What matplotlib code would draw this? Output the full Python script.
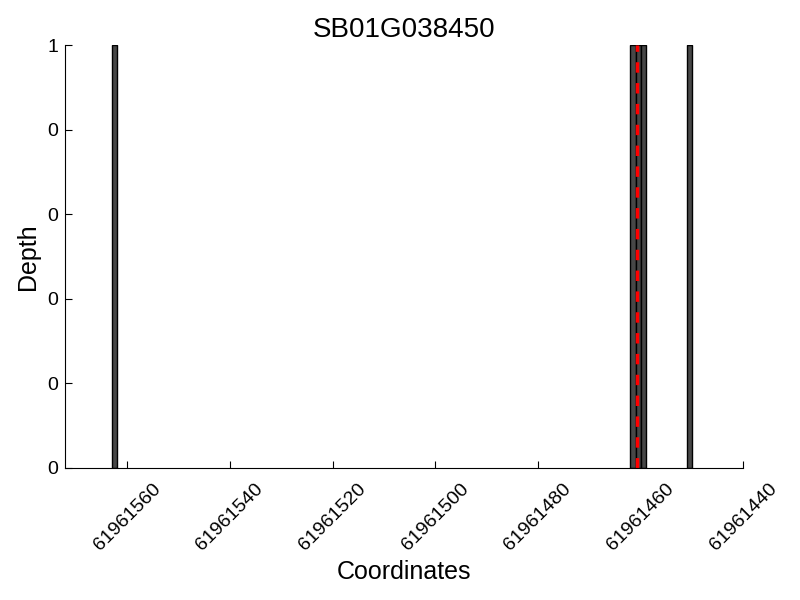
import numpy as np
import matplotlib
matplotlib.use("Agg")
import matplotlib.pyplot as plt

plt.rcParams['font.family'] = ['Liberation Sans', 'DejaVu Sans']

positions = [61961562, 61961461, 61961460, 61961459, 61961450]
depth = [1, 1, 1, 1, 1]
site = 61961460.75
xticks = [61961560, 61961540, 61961520, 61961500, 61961480, 61961460, 61961440]
yticks = [0, 0.2, 0.4, 0.6, 0.8, 1.0]

fig = plt.figure(figsize=(8, 6), dpi=100)
ax = fig.add_axes([0.08125, 0.22, 0.8479, 0.705])

ax.bar(positions, depth, width=1, align='edge', color='#474747',
       edgecolor='black', linewidth=1)
ax.axvline(site, color='red', linestyle='--', linewidth=2.5, dashes=(3, 3))

ax.set_xlim(61961572.14, 61961440)
ax.set_ylim(0, 1)
ax.set_xticks(xticks)
ax.set_xticklabels([str(t) for t in xticks], rotation=45, fontsize=14)
ax.set_yticks(yticks)
ax.set_yticklabels([str(int(v)) for v in yticks], fontsize=14)
ax.tick_params(direction='in', length=5)
ax.tick_params(axis='x', pad=9)
ax.tick_params(axis='y', pad=5)
ax.spines['top'].set_visible(False)
ax.spines['right'].set_visible(False)

ax.set_title("SB01G038450", fontsize=20)
ax.set_xlabel("Coordinates", fontsize=18)
ax.set_ylabel("Depth", fontsize=18, labelpad=5)

fig.savefig("out.png", dpi=100)
